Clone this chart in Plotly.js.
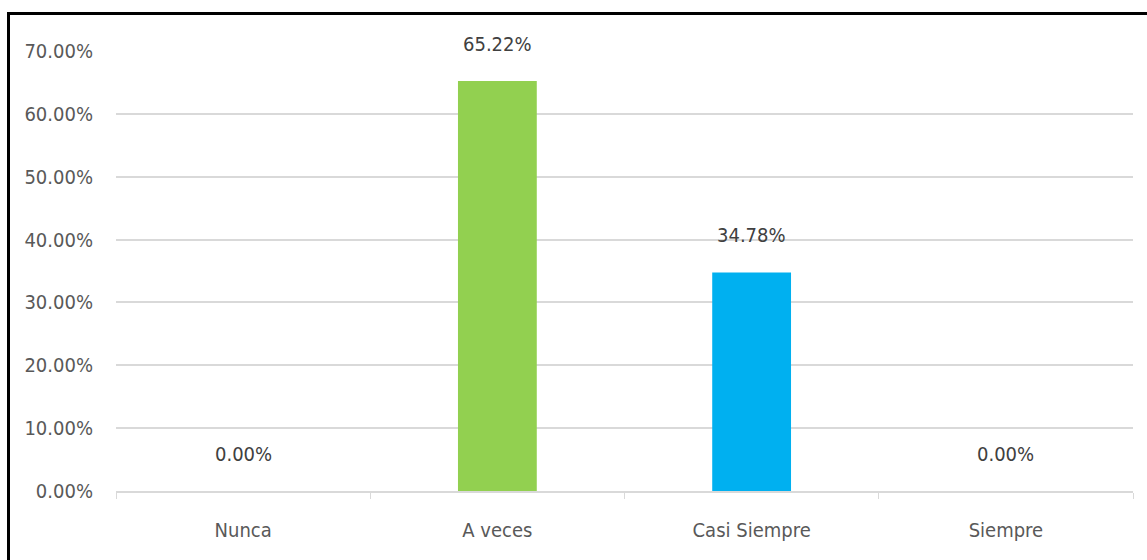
<!DOCTYPE html>
<html>
<head>
<meta charset="utf-8">
<script src="https://cdn.plot.ly/plotly-3.0.1.min.js"></script>
<style>
  html, body { margin: 0; padding: 0; background: #fff; }
  #chart { position: absolute; left: 0; top: 0; width: 1147px; height: 560px; }
  #frame { position: absolute; left: 7px; top: 12px; width: 1160px; height: 600px;
           border-top: 3px solid #000; border-left: 3px solid #000; pointer-events: none; box-sizing: border-box; }
</style>
</head>
<body>
<div id="chart"></div>
<div id="frame"></div>
<script>
const categories = ["Nunca", "A veces", "Casi Siempre", "Siempre"];
const values = [0.0, 65.22, 34.78, 0.0];
const labels = ["0.00%", "65.22%", "34.78%", "0.00%"];
const barColors = ["#92D050", "#92D050", "#00B0F0", "#00B0F0"];
const yTickVals = [0, 10, 20, 30, 40, 50, 60, 70];
const yTickText = ["0.00%", "10.00%", "20.00%", "30.00%", "40.00%", "50.00%", "60.00%", "70.00%"];

const FONT = "'DejaVu Sans Condensed', 'Liberation Sans Narrow', sans-serif";

const trace = {
  type: "bar",
  x: categories,
  y: values,
  marker: { color: barColors },
  hoverinfo: "skip"
};

const annotations = categories.map((c, i) => ({
  x: c, y: values[i], xref: "x", yref: "y",
  text: labels[i], showarrow: false,
  yanchor: "middle", yshift: 37,
  font: { family: FONT, size: 20, color: "#404040" }
}));

const layout = {
  width: 1147, height: 560,
  margin: { l: 116, r: 14, t: 51, b: 69 },
  paper_bgcolor: "#fff", plot_bgcolor: "#fff",
  showlegend: false,
  bargap: 0.69,
  font: { family: FONT, size: 20, color: "#595959" },
  xaxis: {
    type: "category",
    showgrid: false,
    showline: true, linecolor: "#D9D9D9", linewidth: 2,
    ticks: "outside", tickson: "boundaries", ticklen: 6, tickcolor: "#D9D9D9", tickwidth: 1,
    ticklabelstandoff: 20,
    tickfont: { family: FONT, size: 20, color: "#595959" },
    fixedrange: true
  },
  yaxis: {
    range: [0, 70],
    tickvals: yTickVals, ticktext: yTickText,
    showgrid: true, gridcolor: "#D9D9D9", gridwidth: 2,
    zeroline: false, showline: false, ticks: "",
    ticklabelstandoff: 22,
    tickfont: { family: FONT, size: 20, color: "#595959" },
    fixedrange: true
  },
  annotations: annotations
};

Plotly.newPlot("chart", [trace], layout, { displayModeBar: false, staticPlot: true });
</script>
</body>
</html>
